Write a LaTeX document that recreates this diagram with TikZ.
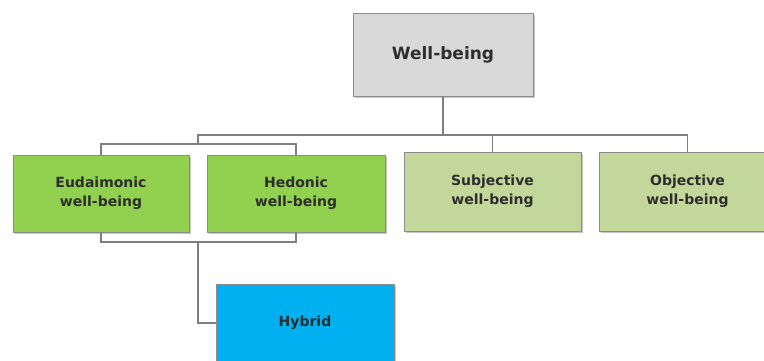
\documentclass[tikz,border=0pt]{standalone}
\usepackage{fontspec}
\setmainfont{DejaVu Sans}
\usetikzlibrary{shadows}
\definecolor{boxgray}{HTML}{D9D9D9}
\definecolor{leafgreen}{HTML}{92D050}
\definecolor{palegreen}{HTML}{C4D79B}
\definecolor{skyblue}{HTML}{00B0F0}
\definecolor{edgegray}{HTML}{8C8C8C}
\definecolor{linkgray}{HTML}{7F7F7F}
\definecolor{txt}{HTML}{2E2E2E}
\tikzset{
  x=1pt, y=-1pt,
  box/.style={draw=edgegray, line width=0.8pt, rectangle, align=center,
    text=txt, font=\bfseries\fontsize{14}{19}\selectfont,
    drop shadow={shadow xshift=1.5pt, shadow yshift=-1.5pt, fill=black!50, opacity=0.45}},
  link/.style={draw=linkgray, line width=1.1pt}
}
\begin{document}
\begin{tikzpicture}
\useasboundingbox (0,0) rectangle (764,360);
\clip (0,0) rectangle (764,360);
% root
\node[box, fill=boxgray, minimum width=180pt, minimum height=83pt,
  font=\bfseries\fontsize{17}{20}\selectfont] (wb) at (443,54.5) {Well-being};
% second level
\node[box, fill=leafgreen, minimum width=176pt, minimum height=77pt] (eu) at (101,193.5) {Eudaimonic\\well-being};
\node[box, fill=leafgreen, minimum width=178pt, minimum height=77pt] (he) at (296,193.5) {Hedonic\\well-being};
\node[box, fill=palegreen, minimum width=177pt, minimum height=79pt] (su) at (492.5,191.5) {Subjective\\well-being};
\node[box, fill=palegreen, minimum width=177pt, minimum height=79pt] (ob) at (687.5,191.5) {Objective\\well-being};
% third level
\node[box, fill=skyblue, minimum width=178pt, minimum height=78pt] (hy) at (305,323) {Hybrid};
% connectors
\coordinate (bus) at (443,135);
\coordinate (pairtop) at (198,144);
\coordinate (pairbot) at (198,242);
\draw[link] (wb.south) -- (bus);
\draw[link] (pairtop) -- (pairtop |- bus) -| (ob.north);
\draw[link] (su.north) -- (su.north |- bus);
\draw[link] (eu.north) -- (eu.north |- pairtop) -| (he.north);
\draw[link] (eu.south) -- (eu.south |- pairbot) -| (he.south);
\draw[link] (pairbot) |- (hy.west);
\end{tikzpicture}
\end{document}
